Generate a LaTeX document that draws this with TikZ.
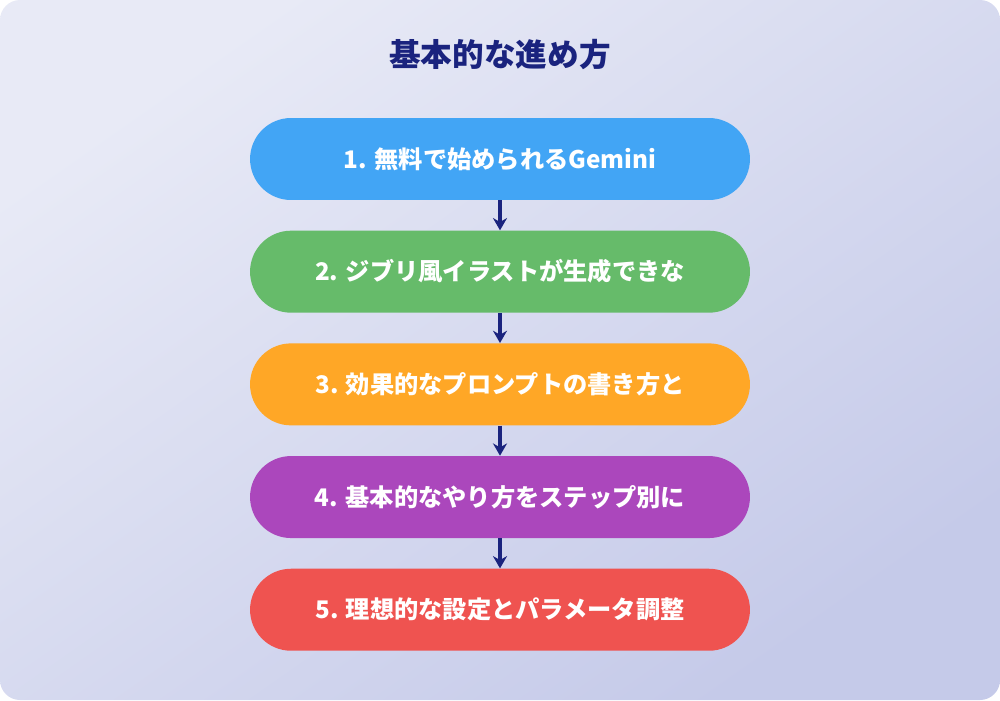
\documentclass[tikz,border=0pt]{standalone}
\usepackage{fontspec}
\setmainfont{Noto Sans CJK JP}
\usetikzlibrary{positioning,arrows.meta}
\definecolor{bgA}{HTML}{E8EAF6}
\definecolor{bgB}{HTML}{C5CAE9}
\definecolor{navy}{HTML}{1A237E}
\definecolor{stepblue}{HTML}{42A5F5}
\definecolor{stepgreen}{HTML}{66BB6A}
\definecolor{steporange}{HTML}{FFA726}
\definecolor{steppurple}{HTML}{AB47BC}
\definecolor{stepred}{HTML}{EF5350}
\tikzset{
  stepbox/.style={rectangle, rounded corners=0.82cm, minimum width=10cm,
    minimum height=1.64cm, text=white, font=\fontsize{13.8pt}{16pt}\selectfont\bfseries},
  flow/.style={draw=navy, line width=2pt, -{Stealth[length=7pt,width=8pt]}}
}
\begin{document}
\begin{tikzpicture}[x=0.02cm,y=-0.02cm]
	\useasboundingbox (0,0) rectangle (1000,700);
	\shade[left color=bgA, right color=bgB, shading angle=35, rounded corners=0.4cm]
		(0,0) rectangle (1000,700);

	\node[text=navy, font=\fontsize{18pt}{21pt}\selectfont\bfseries] (title) at (500,55) {基本的な進め方};

	\node[stepbox, fill=stepblue] (s1) at (500,159) {1. 無料で始められるGemini};
	\node[stepbox, fill=stepgreen, below=0.6cm of s1] (s2) {2. ジブリ風イラストが生成できな};
	\node[stepbox, fill=steporange, below=0.6cm of s2] (s3) {3. 効果的なプロンプトの書き方と};
	\node[stepbox, fill=steppurple, below=0.6cm of s3] (s4) {4. 基本的なやり方をステップ別に};
	\node[stepbox, fill=stepred, below=0.6cm of s4] (s5) {5. 理想的な設定とパラメータ調整};

	\draw[flow] (s1) -- (s2);
	\draw[flow] (s2) -- (s3);
	\draw[flow] (s3) -- (s4);
	\draw[flow] (s4) -- (s5);
\end{tikzpicture}
\end{document}
